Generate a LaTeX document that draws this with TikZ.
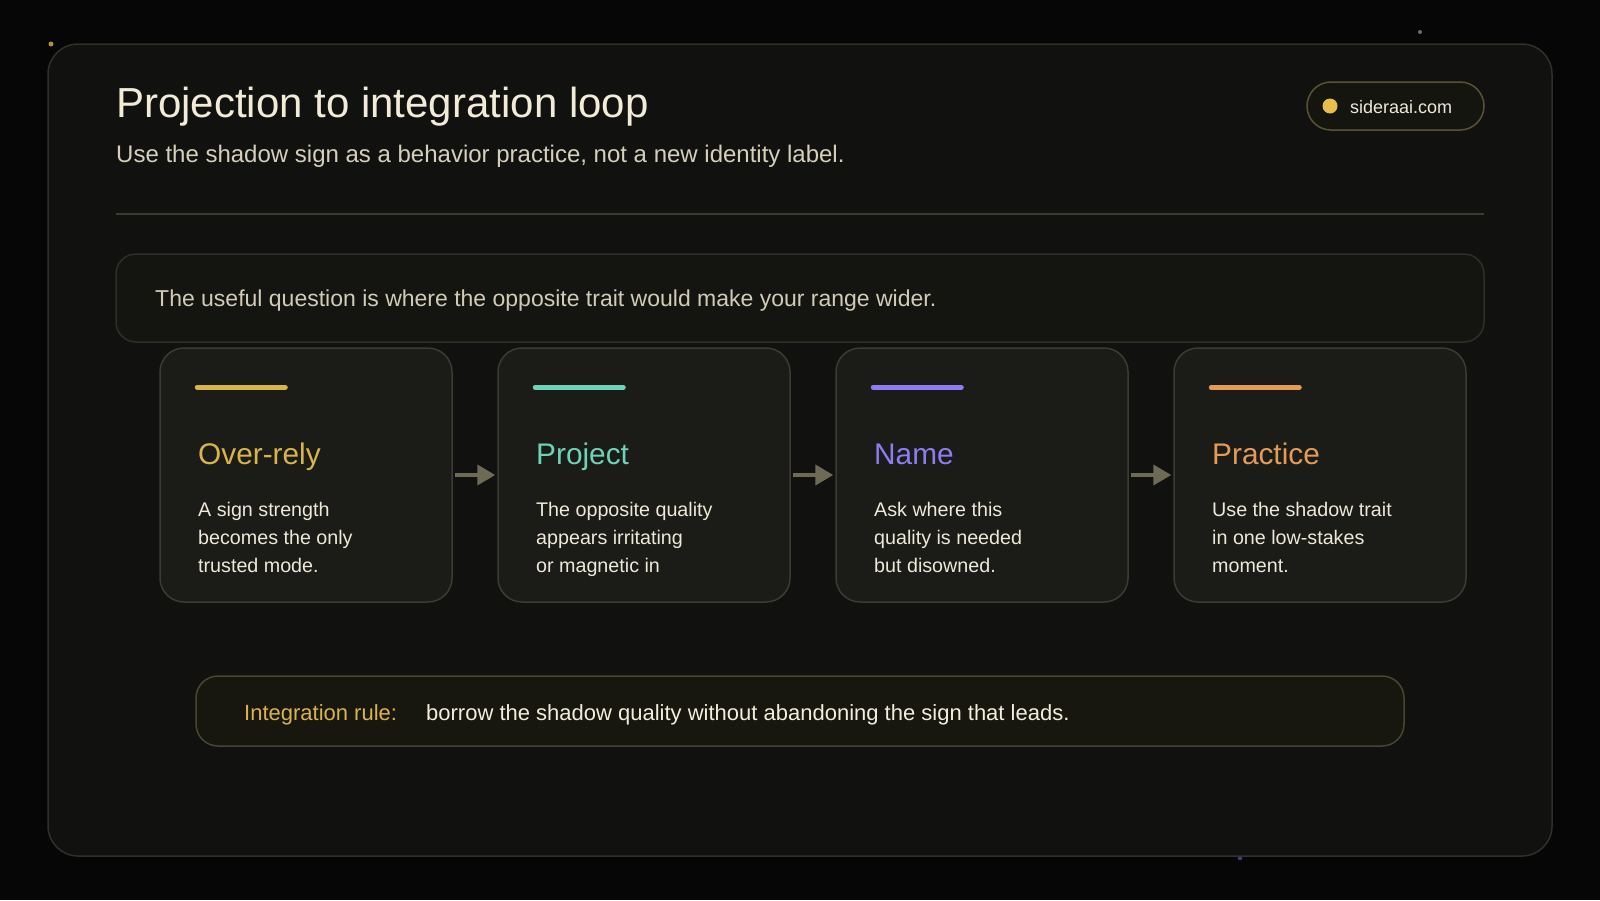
\documentclass[tikz,border=0pt]{standalone}
\usepackage{fontspec}
\setmainfont{Liberation Sans}
\usetikzlibrary{arrows.meta}
\definecolor{bgc}{HTML}{060606}
\definecolor{mainfill}{HTML}{111210}
\definecolor{mainline}{HTML}{2F302A}
\definecolor{titlec}{HTML}{F2EBD8}
\definecolor{subc}{HTML}{D6CFBC}
\definecolor{rulec}{HTML}{3A3A30}
\definecolor{quotefill}{HTML}{141510}
\definecolor{quoteline}{HTML}{2E2F28}
\definecolor{quotetext}{HTML}{D2CBB8}
\definecolor{cardfill}{HTML}{1B1C17}
\definecolor{cardline}{HTML}{3A3B33}
\definecolor{bodyc}{HTML}{EEE8D8}
\definecolor{arrc}{HTML}{6E6A56}
\definecolor{goldc}{HTML}{D9B44A}
\definecolor{tealc}{HTML}{6DD3B8}
\definecolor{purplec}{HTML}{8D7CF2}
\definecolor{orangec}{HTML}{E39B57}
\definecolor{rulefill}{HTML}{17170F}
\definecolor{ruleline}{HTML}{4A4530}
\definecolor{ruletext}{HTML}{F3EDDC}
\definecolor{pillfill}{HTML}{15150F}
\definecolor{pillline}{HTML}{5B5236}
\definecolor{pilldot}{HTML}{E7BD4C}
\definecolor{dotgray}{HTML}{6A6A6A}
\tikzset{
  card/.style={draw=cardline, fill=cardfill, line width=1.5pt, rounded corners=24pt,
    minimum width=292pt, minimum height=254pt, inner sep=0pt},
  cardtitle/.style={anchor=base west, inner sep=0pt, font=\fontsize{29.8}{34}\selectfont},
  cardbody/.style={anchor=base west, inner sep=0pt, text=bodyc},
  accent/.style={line width=5pt, line cap=round},
  flow/.style={draw=arrc, line width=4pt, -{Triangle[length=18pt,width=20pt]}},
}
\begin{document}
\begin{tikzpicture}[x=1pt,y=-1pt]
\useasboundingbox (0,0) rectangle (1600,900);
\fill[bgc] (0,0) rectangle (1600,900);
% decorative dots
\fill[goldc!80!black] (51,44) circle (2.5);
\fill[dotgray] (1420,32) circle (2);
\fill[purplec!50!black] (1240,858) circle (2.2);
% main panel
\draw[draw=mainline, fill=mainfill, line width=1.5pt, rounded corners=30pt] (48,44) rectangle (1552,856);
% title and subtitle
\node[anchor=base west, inner sep=0pt, text=titlec, font=\fontsize{42}{48}\selectfont] (title) at (116,117) {Projection to integration loop};
\node[anchor=base west, inner sep=0pt, text=subc, font=\fontsize{24}{28}\selectfont] (subtitle) at (116,162) {Use the shadow sign as a behavior practice, not a new identity label.};
% pill
\node[draw=pillline, fill=pillfill, line width=1.5pt, rounded corners=24pt, minimum width=177pt, minimum height=48pt, inner sep=0pt] (pill) at (1395.5,106) {};
\fill[pilldot] (1330,106) circle (7.5);
\node[anchor=base west, inner sep=0pt, text=bodyc, font=\fontsize{18}{22}\selectfont] (site) at (1350,113) {sideraai.com};
% rule
\draw[rulec, line width=2.5pt] (116,214) -- (1484,214);
% quote box
\node[draw=quoteline, fill=quotefill, line width=1.5pt, rounded corners=20pt, minimum width=1368pt, minimum height=88pt, inner sep=0pt] (quote) at (800,298) {};
\node[anchor=base west, inner sep=0pt, text=quotetext, font=\fontsize{23}{27}\selectfont] (quotetxt) at (155,306) {The useful question is where the opposite trait would make your range wider.};
% cards
\foreach \i/\x/\col/\ttl/\body in {
  1/306/goldc/Over-rely/{A sign strength\\becomes the only\\trusted mode.},
  2/644/tealc/Project/{The opposite quality\\appears irritating\\or magnetic in},
  3/982/purplec/Name/{Ask where this\\quality is needed\\but disowned.},
  4/1320/orangec/Practice/{Use the shadow trait\\in one low-stakes\\moment.}}{
  \node[card] (c\i) at (\x,475) {};
  \draw[accent, \col] ([xshift=38pt,yshift=-40pt]c\i.north west) -- ([xshift=126pt,yshift=-40pt]c\i.north west);
  \node[cardtitle, text=\col] (t\i) at (\x-108,464) {\ttl};
  \node[cardbody] (b\i) at (\x-108,516) {\parbox[t]{250pt}{\raggedright\fontsize{19.7}{28}\selectfont\body}};
}
\draw[flow] ([xshift=2pt]c1.east) -- ([xshift=-2pt]c2.west);
\draw[flow] ([xshift=2pt]c2.east) -- ([xshift=-2pt]c3.west);
\draw[flow] ([xshift=2pt]c3.east) -- ([xshift=-2pt]c4.west);
% integration rule box
\node[draw=ruleline, fill=rulefill, line width=1.5pt, rounded corners=22pt, minimum width=1208pt, minimum height=70pt, inner sep=0pt] (rulebox) at (800,711) {};
\node[anchor=base west, inner sep=0pt, text=goldc, font=\fontsize{22}{26}\selectfont] (rulelabel) at (244,720) {Integration rule:};
\node[anchor=base west, inner sep=0pt, text=ruletext, font=\fontsize{22}{26}\selectfont] (ruletxt) at (426,720) {borrow the shadow quality without abandoning the sign that leads.};
\end{tikzpicture}
\end{document}
